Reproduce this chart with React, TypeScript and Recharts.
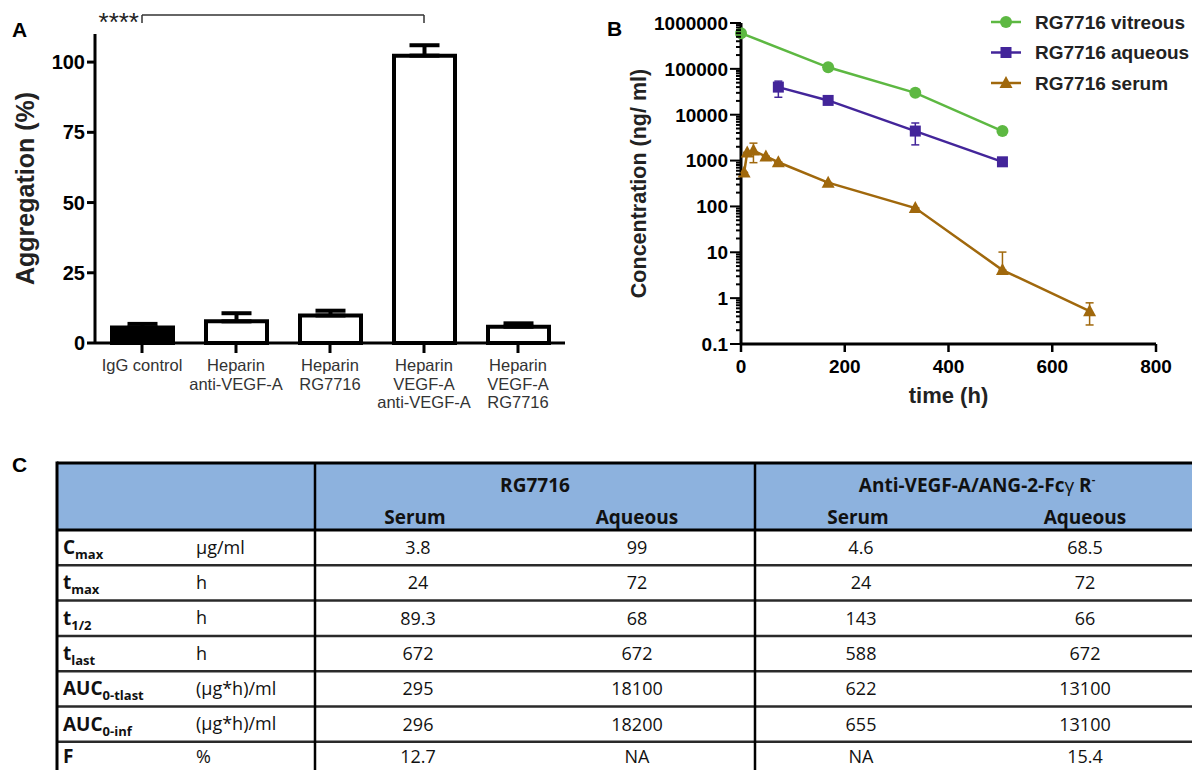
import React from 'react';
import {
  BarChart, Bar, XAxis, YAxis, Cell, ErrorBar, ReferenceLine, LineChart, Line, Legend, Label,
} from 'recharts';

const FONT = "'Liberation Sans', Arial, Helvetica, sans-serif";
const TFONT = "'Open Sans', 'Noto Sans', sans-serif";

// ---------- Panel A data ----------
const aggCategories = [
  'IgG control',
  'Heparin\nanti-VEGF-A',
  'Heparin\nRG7716',
  'Heparin\nVEGF-A\nanti-VEGF-A',
  'Heparin\nVEGF-A\nRG7716',
];
const aggMeans = [5.5, 7.7, 9.8, 102.3, 5.8];
const aggErrors = [1.3, 2.9, 1.7, 3.7, 1.2];
const aggFills = ['#000000', '#ffffff', '#ffffff', '#ffffff', '#ffffff'];
const aggTicks = [0, 25, 50, 75, 100];
const sigLabel = '****';
const sigFrom = 'IgG control';
const sigTo = 'Heparin\nVEGF-A\nanti-VEGF-A';
const sigTop = 116.8;
const sigLeg = 113.9;

// ---------- Panel B data ----------
const seriesNames = ['RG7716 vitreous', 'RG7716 aqueous', 'RG7716 serum'];
const seriesColors = ['#5db842', '#43259a', '#a0680c'];
const seriesShapes = ['circle', 'square', 'triangle'];

const vitreousTime = [0, 168, 336, 504];
const vitreousConc = [600000, 108000, 30000, 4400];

const aqueousTime = [72, 168, 336, 504];
const aqueousConc = [40000, 20500, 4400, 940];
const aqueousErrLow = [16000, 0, 2200, 0];
const aqueousErrHigh = [14000, 0, 2200, 0];

const serumTime = [6, 12, 24, 48, 72, 168, 336, 504, 672];
const serumConc = [550, 1500, 1650, 1230, 920, 330, 92, 4.1, 0.52];
const serumErrLow = [0, 0, 750, 0, 0, 0, 0, 0, 0.26];
const serumErrHigh = [0, 0, 750, 0, 0, 0, 0, 6, 0.27];

const timeTicks = [0, 200, 400, 600, 800];
const concMajorTicks = [0.1, 1, 10, 100, 1000, 10000, 100000, 1000000];
const concMinorMultipliers = [2, 3, 4, 5, 6, 7, 8, 9];

// ---------- Panel C data ----------
const tableGroups = ['RG7716', 'Anti-VEGF-A/ANG-2-Fc'];
const tableSubCols = ['Serum', 'Aqueous', 'Serum', 'Aqueous'];
const paramMain = ['C', 't', 't', 't', 'AUC', 'AUC', 'F'];
const paramSub = ['max', 'max', '1/2', 'last', '0-tlast', '0-inf', ''];
const paramUnits = ['\u03bcg/ml', 'h', 'h', 'h', '(\u03bcg*h)/ml', '(\u03bcg*h)/ml', '%'];
const rgSerum = ['3.8', '24', '89.3', '672', '295', '296', '12.7'];
const rgAqueous = ['99', '72', '68', '672', '18100', '18200', 'NA'];
const antiSerum = ['4.6', '24', '143', '588', '622', '655', 'NA'];
const antiAqueous = ['68.5', '72', '66', '672', '13100', '13100', '15.4'];

// ---------- derived ----------
const aggData = aggCategories.map((name, i) => ({ name, mean: aggMeans[i], err: [0, aggErrors[i]] }));
const vitreousData = vitreousTime.map((t, i) => ({ t, c: vitreousConc[i] }));
const aqueousData = aqueousTime.map((t, i) => ({ t, c: aqueousConc[i], err: [aqueousErrLow[i], aqueousErrHigh[i]] }));
const serumData = serumTime.map((t, i) => ({ t, c: serumConc[i], err: [serumErrLow[i], serumErrHigh[i]] }));
const concTicks: number[] = [];
concMajorTicks.forEach((m, k) => {
  concTicks.push(m);
  if (k < concMajorTicks.length - 1) {
    concMinorMultipliers.forEach((mm) => concTicks.push(Number((m * mm).toPrecision(3))));
  }
});
const tableValues = [rgSerum, rgAqueous, antiSerum, antiAqueous];

// ---------- helpers ----------
const AggTick = (props: any) => {
  const { x, y, payload } = props;
  const lines = String(payload.value).split('\n');
  return (
    <text x={x} y={y} textAnchor="middle" fill="#333" fontSize={16.5} fontFamily={FONT}>
      {lines.map((l, i) => (
        <tspan key={i} x={x} dy={i === 0 ? 16 : 18.5}>{l}</tspan>
      ))}
    </text>
  );
};

const LogTick = (props: any) => {
  const { x, y, payload } = props;
  const v = Number(payload.value);
  const lg = Math.log10(v);
  const major = Math.abs(lg - Math.round(lg)) < 1e-6;
  return (
    <g>
      <line x1={x - (major ? 11 : 5)} x2={x} y1={y} y2={y} stroke="#000" strokeWidth={2} />
      {major && (
        <text x={x - 13} y={y} dy="0.36em" textAnchor="end" fontSize={19} fontWeight="bold" fontFamily={FONT} fill="#000">
          {String(v)}
        </text>
      )}
    </g>
  );
};

const marker = (shape: string, cx: number, cy: number, color: string, key?: any) => {
  if (shape === 'circle') return <circle key={key} cx={cx} cy={cy} r={6} fill={color} />;
  if (shape === 'square') return <rect key={key} x={cx - 5.5} y={cy - 5.5} width={11} height={11} fill={color} />;
  return <path key={key} d={`M${cx},${cy - 7}L${cx + 6.5},${cy + 5}L${cx - 6.5},${cy + 5}Z`} fill={color} />;
};

const makeDot = (idx: number) => (p: any) =>
  marker(seriesShapes[idx], p.cx, p.cy, seriesColors[idx], `dot-${idx}-${p.index}`);

const renderLegend = (props: any) => {
  const payload = [...(props.payload || [])].sort(
    (a: any, b: any) => seriesNames.indexOf(a.value) - seriesNames.indexOf(b.value),
  );
  return (
    <svg width={207} height={95} style={{ overflow: 'visible' }}>
      {payload.map((e: any, i: number) => {
        const cy = 15 + i * 30.5;
        const idx = Math.max(0, seriesNames.indexOf(e.value));
        return (
          <g key={i}>
            <line x1={6} x2={36} y1={cy} y2={cy} stroke={e.color} strokeWidth={2.5} />
            {marker(seriesShapes[idx], 21, cy, e.color)}
            <text x={50} y={cy} dy="0.36em" fontSize={19} fontWeight="bold" fontFamily={FONT} fill="#222">
              {e.value}
            </text>
          </g>
        );
      })}
    </svg>
  );
};

const App = () => {
  const rowTop = 530;
  const rowH = 35.3;
  const tLeft = 57;
  const tRight = 1199;
  const tTop = 463;
  const tBottom = rowTop + rowH * 7;
  const div1 = 315;
  const div2 = 755;
  const valueCenters = [418, 637, 861, 1085];

  return (
    <div style={{ position: 'absolute', left: 0, top: 0, width: 1192, height: 770, background: '#fff', overflow: 'hidden' }}>
      <svg style={{ position: 'absolute', left: 0, top: 0 }} width={1192} height={770}>
        <text x={12} y={37} fontSize={21} fontWeight="bold" fontFamily={FONT}>A</text>
        <text x={607} y={36} fontSize={21} fontWeight="bold" fontFamily={FONT}>B</text>
        <text x={12} y={472} fontSize={21} fontWeight="bold" fontFamily={FONT}>C</text>

        {/* Table C */}
        <rect x={tLeft} y={tTop} width={tRight - tLeft} height={rowTop - tTop} fill="#8db2de" />
        {Array.from({ length: 6 }).map((_, i) => (
          <line key={`r${i}`} x1={tLeft} x2={tRight} y1={rowTop + rowH * (i + 1)} y2={rowTop + rowH * (i + 1)} stroke="#2a2a2a" strokeWidth={2.5} />
        ))}
        <line x1={tLeft} x2={tRight} y1={rowTop} y2={rowTop} stroke="#000" strokeWidth={3} />
        <line x1={tLeft} x2={tRight} y1={tTop} y2={tTop} stroke="#000" strokeWidth={3} />
        <line x1={tLeft} x2={tLeft} y1={tTop - 1.5} y2={tBottom} stroke="#000" strokeWidth={3} />
        <line x1={div1} x2={div1} y1={tTop} y2={tBottom} stroke="#000" strokeWidth={2.5} />
        <line x1={div2} x2={div2} y1={tTop} y2={tBottom} stroke="#000" strokeWidth={2.5} />
        <line x1={tRight} x2={tRight} y1={tTop} y2={tBottom} stroke="#000" strokeWidth={3} />

        <text x={(div1 + div2) / 2} y={492} textAnchor="middle" fontSize={19} fontWeight="bold" fontFamily={TFONT} fill="#111">{tableGroups[0]}</text>
        <text x={(div2 + tRight) / 2} y={492} textAnchor="middle" fontSize={19} fontWeight="bold" fontFamily={TFONT} fill="#111">
          {tableGroups[1]}
          <tspan fontWeight="normal">{'\u03b3'}</tspan>
          <tspan>{' R'}</tspan>
          <tspan fontSize={11} dy={-9}>-</tspan>
        </text>
        {tableSubCols.map((s, i) => (
          <text key={`h${i}`} x={valueCenters[i] - (i % 2 === 0 ? 3 : 0)} y={524} textAnchor="middle" fontSize={19} fontWeight="bold" fontFamily={TFONT} fill="#111">{s}</text>
        ))}
        {paramMain.map((m, r) => {
          const cy = rowTop + rowH * (r + 0.5);
          const base = r === paramMain.length - 1 ? cy + 4 : cy + 6.5;
          return (
            <g key={`row${r}`}>
              <text x={63} y={base} fontSize={19} fontWeight="bold" fontFamily={TFONT} fill="#111">
                {m}
                {paramSub[r] && <tspan fontSize={13} dy={5}>{paramSub[r]}</tspan>}
              </text>
              <text x={196} y={base - 0.5} fontSize={18} fontFamily={TFONT} fill="#111">{paramUnits[r]}</text>
              {tableValues.map((col, c) => (
                <text key={c} x={valueCenters[c]} y={base} textAnchor="middle" fontSize={18} fontFamily={TFONT} fill="#111">{col[r]}</text>
              ))}
            </g>
          );
        })}
      </svg>

      {/* Panel A */}
      <div style={{ position: 'absolute', left: 0, top: 0, width: 600, height: 430 }}>
        <BarChart width={600} height={430} data={aggData} margin={{ top: 34, right: 35, bottom: 0, left: 0 }} barSize={61}>
          <XAxis
            dataKey="name"
            type="category"
            interval={0}
            height={87}
            tickSize={10}
            axisLine={{ stroke: '#000', strokeWidth: 3 }}
            tickLine={{ stroke: '#000', strokeWidth: 3 }}
            tick={<AggTick />}
          />
          <YAxis
            domain={[0, 110]}
            ticks={aggTicks}
            interval={0}
            width={95}
            tickSize={8}
            tickMargin={2}
            axisLine={{ stroke: '#000', strokeWidth: 3 }}
            tickLine={{ stroke: '#000', strokeWidth: 3 }}
            tick={{ fill: '#000', fontSize: 20, fontWeight: 'bold', fontFamily: FONT }}
          >
            <Label
              content={(p: any) => {
                const vb = p.viewBox || { x: 0, y: 34, width: 95, height: 309 };
                const cx = vb.x + 25;
                const cy = vb.y + vb.height / 2;
                return (
                  <text x={cx} y={cy} dy="0.35em" transform={`rotate(-90 ${cx} ${cy})`} textAnchor="middle" fontSize={25} fontWeight="bold" fontFamily={FONT} fill="#222">
                    Aggregation (%)
                  </text>
                );
              }}
            />
          </YAxis>
          <ReferenceLine
            segment={[{ x: sigFrom, y: sigTop }, { x: sigTo, y: sigTop }]}
            ifOverflow="visible"
            stroke="#333"
            strokeWidth={1.5}
            label={{
              content: (p: any) => {
                const vb = p.viewBox || { x: 0, y: 0 };
                return (
                  <text x={vb.x - 3} y={vb.y + 16} textAnchor="end" fontSize={26} fontFamily={FONT} fill="#222">{sigLabel}</text>
                );
              },
            }}
          />
          <ReferenceLine segment={[{ x: sigFrom, y: sigTop }, { x: sigFrom, y: sigLeg }]} ifOverflow="visible" stroke="#333" strokeWidth={1.5} />
          <ReferenceLine segment={[{ x: sigTo, y: sigTop }, { x: sigTo, y: sigLeg }]} ifOverflow="visible" stroke="#333" strokeWidth={1.5} />
          <Bar dataKey="mean" stroke="#000" strokeWidth={4} isAnimationActive={false}>
            {aggData.map((d, i) => (
              <Cell key={i} fill={aggFills[i]} />
            ))}
            <ErrorBar dataKey="err" direction="y" width={15} stroke="#000" strokeWidth={4} />
          </Bar>
        </BarChart>
      </div>

      {/* Panel B */}
      <div style={{ position: 'absolute', left: 600, top: 0, width: 592, height: 430 }}>
        <LineChart width={592} height={430} margin={{ top: 23, right: 36, bottom: 0, left: 0 }}>
          <XAxis
            type="number"
            dataKey="t"
            domain={[0, 800]}
            ticks={timeTicks}
            interval={0}
            height={86}
            tickSize={8}
            tickMargin={8}
            axisLine={{ stroke: '#000', strokeWidth: 3 }}
            tickLine={{ stroke: '#000', strokeWidth: 2.5 }}
            tick={{ fill: '#000', fontSize: 19, fontWeight: 'bold', fontFamily: FONT }}
          >
            <Label
              content={(p: any) => {
                const vb = p.viewBox || { x: 141, y: 344, width: 415, height: 86 };
                return (
                  <text x={vb.x + vb.width / 2} y={vb.y + 59} textAnchor="middle" fontSize={22} fontWeight="bold" fontFamily={FONT} fill="#222">
                    time (h)
                  </text>
                );
              }}
            />
          </XAxis>
          <YAxis
            type="number"
            scale="log"
            domain={[0.1, 1000000]}
            ticks={concTicks}
            interval={0}
            width={141}
            tickSize={0}
            tickMargin={0}
            tickLine={false}
            axisLine={{ stroke: '#000', strokeWidth: 3 }}
            tick={<LogTick />}
          >
            <Label
              content={(p: any) => {
                const vb = p.viewBox || { x: 0, y: 23, width: 141, height: 321 };
                const cx = vb.x + 38;
                const cy = vb.y + vb.height / 2;
                return (
                  <text x={cx} y={cy} dy="0.35em" transform={`rotate(-90 ${cx} ${cy})`} textAnchor="middle" fontSize={21.5} fontWeight="bold" fontFamily={FONT} fill="#222">
                    Concentration (ng/ ml)
                  </text>
                );
              }}
            />
          </YAxis>
          <Legend
            layout="vertical"
            align="center"
            verticalAlign="middle"
            content={renderLegend}
            wrapperStyle={{ left: 385, top: 7, width: 207, height: 95 }}
          />
          <Line data={vitreousData} dataKey="c" name={seriesNames[0]} stroke={seriesColors[0]} strokeWidth={2.5} dot={makeDot(0)} activeDot={false} isAnimationActive={false} />
          <Line data={aqueousData} dataKey="c" name={seriesNames[1]} stroke={seriesColors[1]} strokeWidth={2.5} dot={makeDot(1)} activeDot={false} isAnimationActive={false}>
            <ErrorBar dataKey="err" direction="y" width={4} stroke={seriesColors[1]} strokeWidth={1.5} />
          </Line>
          <Line data={serumData} dataKey="c" name={seriesNames[2]} stroke={seriesColors[2]} strokeWidth={2.5} dot={makeDot(2)} activeDot={false} isAnimationActive={false}>
            <ErrorBar dataKey="err" direction="y" width={4} stroke={seriesColors[2]} strokeWidth={1.5} />
          </Line>
        </LineChart>
      </div>
    </div>
  );
};

export default App;
